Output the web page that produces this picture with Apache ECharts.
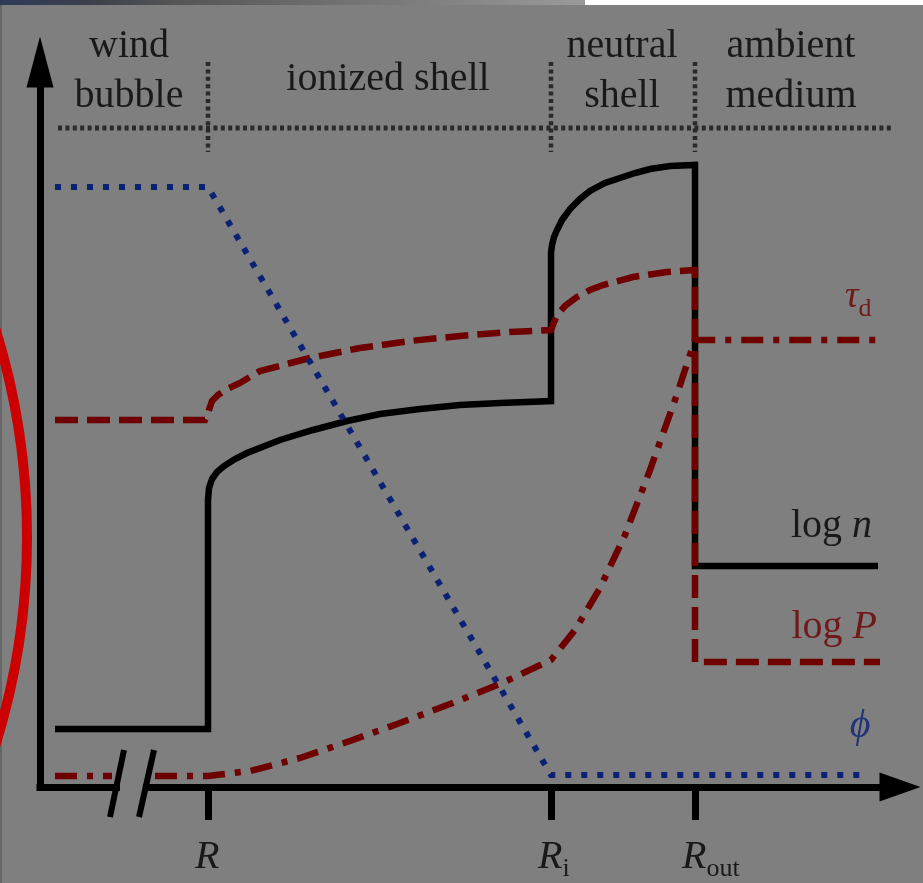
<!DOCTYPE html>
<html><head><meta charset="utf-8">
<script src="https://cdn.jsdelivr.net/npm/echarts@6/dist/echarts.min.js"></script>
<style>html,body{margin:0;padding:0;background:#7f7f7f}#c{width:923px;height:883px}</style>
</head><body><div id="c"></div>
<script>
// Schematic units: x = radius (0 at the vertical axis), y = profile value (0 on the radius axis)
const boundaryTicks = [168, 511, 655];            // R, R_i, R_out
const tickLabels = ['{it|R}', '{it|R}{sub|i}', '{it|R}{sub|out}'];

const logN = [[15,58],[168,58],[168,287],[169,299],[172,308],[177,315],[184,321],[195,328],[207,334],
  [240,347],[273,357],[307,366],[340,373],[380,378],[420,382],[460,384],[511,386],
  [511,534],[512,542],[514,550],[517,557],[522,567],[530,578],[540,588],[550,596],[565,604],[580,609],
  [595,614],[610,618],[630,621],[655,622],[655,221],[838,221]];
const logP = [[15,367],[165,367],[168,374],[172,386],[178,392],[185,397],[200,404],[220,416],
  [270,429],[320,439],[370,446],[420,451],[470,455],[511,457],[514,465],[518,473],[525,481],
  [537,490],[550,497],[563,502],[593,510],[627,515],[655,517],[655,125],[840,125]];
const tauInner = [[15,11],[72,11]];
const tauOuter = [[115,11],[168,11],[210,16],[260,29],[310,46],[360,64],[410,83],[460,103],
  [511,127],[535,157],[560,199],[585,252],[610,317],[635,387],[655,447],[838,447]];
const phi = [[15,600],[168,600],[511,12],[822,12]];

const dividerH = [[18,659],[852,659]];
const dividerV = [[[168,725],[168,635]], [[511,725],[511,635]], [[655,725],[655,635]]];
const breakMarks = [[[84,37],[70,-30]], [[114,37],[99,-30]]];
const axisGap = [[80,0],[103,0]];

const regionNames = ['wind\nbubble', 'ionized shell', 'neutral\nshell', 'ambient\nmedium'];
const regionAnchors = [[89,716], [348,708], [582,716], [751,716]];
const curveNames = ['{r|τ}{rsub|d}', 'log {it|n}', '{ru|log }{rit|P}', '{b|ϕ}'];
const curveAnchors = [[805,490], [832,261], [837,160], [820,61]];
const tickLabelY = -70;

const BG = '#7f7f7f', RED = '#6e0000', BLUE = '#0b2175', SERIF = 'Liberation Serif';

const rich = {
  it:   {fontFamily: SERIF, fontSize: 40, fontStyle: 'italic', color: '#000', lineHeight: 50},
  sub:  {fontFamily: SERIF, fontSize: 26, color: '#000', lineHeight: 34, verticalAlign: 'bottom'},
  r:    {fontFamily: SERIF, fontSize: 38, fontStyle: 'italic', color: RED, lineHeight: 50},
  rsub: {fontFamily: SERIF, fontSize: 26, color: RED, lineHeight: 34, verticalAlign: 'bottom'},
  ru:   {fontFamily: SERIF, fontSize: 40, color: RED, lineHeight: 50},
  rit:  {fontFamily: SERIF, fontSize: 40, fontStyle: 'italic', color: RED, lineHeight: 50},
  b:    {fontFamily: SERIF, fontSize: 40, fontStyle: 'italic', color: BLUE, lineHeight: 50}
};
const baseText = {fontFamily: SERIF, fontSize: 40, color: '#000', lineHeight: 50};

function line(data, color, width, type, z) {
  return {type: 'line', data: data, symbol: 'none', clip: false, animation: false, z: z || 3,
    lineStyle: {color: color, width: width, type: type || 'solid', join: 'miter', cap: 'butt'},
    emphasis: {disabled: true}};
}

const series = [];
series.push(line(axisGap, BG, 11, 'solid', 2));
breakMarks.forEach(b => series.push(line(b, '#000', 6, 'solid', 3)));
series.push(line(dividerH, '#2a2a2a', 5, [4, 3.4], 2));
dividerV.forEach(v => series.push(line(v, '#2a2a2a', 4.5, [4, 3.4], 2)));
series.push(line(logN, '#000', 6.5, 'solid', 4));
series.push(line(logP, RED, 6.5, [23, 9], 5));
series.push(line(tauInner, RED, 6.5, [22, 10, 6, 10], 6));
series.push(line(tauOuter, RED, 6.5, [22, 10, 6, 10], 6));
series.push(line(phi, BLUE, 6, [6, 10], 7));

const textItems = [];
regionNames.forEach((t, i) => textItems.push({value: regionAnchors[i],
  label: {formatter: t, align: 'center', verticalAlign: 'middle'}}));
const curveAlign = ['left', 'right', 'right', 'center'];
curveNames.forEach((t, i) => textItems.push({value: curveAnchors[i],
  label: {formatter: t, align: curveAlign[i], verticalAlign: 'middle'}}));
boundaryTicks.forEach((x, i) => textItems.push({value: [x, tickLabelY],
  label: {formatter: tickLabels[i], align: 'left', verticalAlign: 'middle', offset: [-13, 0]}}));

series.push({type: 'scatter', data: textItems, symbolSize: 1, clip: false, animation: false, z: 10,
  itemStyle: {color: 'rgba(0,0,0,0)'}, silent: true,
  label: {show: true, position: 'inside', ...baseText, rich: rich}});

const chart = echarts.init(document.getElementById('c'), null, {renderer: 'canvas'});
chart.setOption({
  backgroundColor: BG,
  animation: false,
  grid: {left: 40, right: 23, top: 62, bottom: 96, containLabel: false},
  xAxis: {type: 'value', min: 0, max: 860,
    axisLine: {show: true, onZero: true, symbol: ['none', 'triangle'], symbolSize: [29, 41],
      lineStyle: {color: '#000', width: 7, cap: 'square'}},
    axisTick: {show: true, customValues: boundaryTicks, length: 33, inside: false,
      lineStyle: {color: '#000', width: 7}},
    axisLabel: {show: false}, splitLine: {show: false}},
  yAxis: {type: 'value', min: 0, max: 725,
    axisLine: {show: true, onZero: true, symbol: ['none', 'triangle'], symbolSize: [27, 51],
      lineStyle: {color: '#000', width: 7, cap: 'square'}},
    axisTick: {show: false}, axisLabel: {show: false}, splitLine: {show: false}},
  graphic: [
    {type: 'rect', left: 0, top: 0, shape: {width: 585, height: 5}, z: 100,
      style: {fill: new echarts.graphic.LinearGradient(0, 0, 1, 0, [
        {offset: 0, color: '#2f3a58'}, {offset: 0.15, color: '#3a3f4a'},
        {offset: 0.3, color: '#555'}, {offset: 1, color: '#9a9a9a'}])}},
    {type: 'rect', left: 585, top: 0, shape: {width: 338, height: 5}, z: 100, style: {fill: '#fff'}},
    {type: 'rect', left: 0, top: 5, shape: {width: 2, height: 878}, z: 100, style: {fill: '#666'}},
    {type: 'circle', shape: {cx: -673, cy: 537, r: 700}, z: 100, silent: true,
      style: {fill: 'none', stroke: '#cc0000', lineWidth: 10}}
  ],
  series: series
});
</script></body></html>
